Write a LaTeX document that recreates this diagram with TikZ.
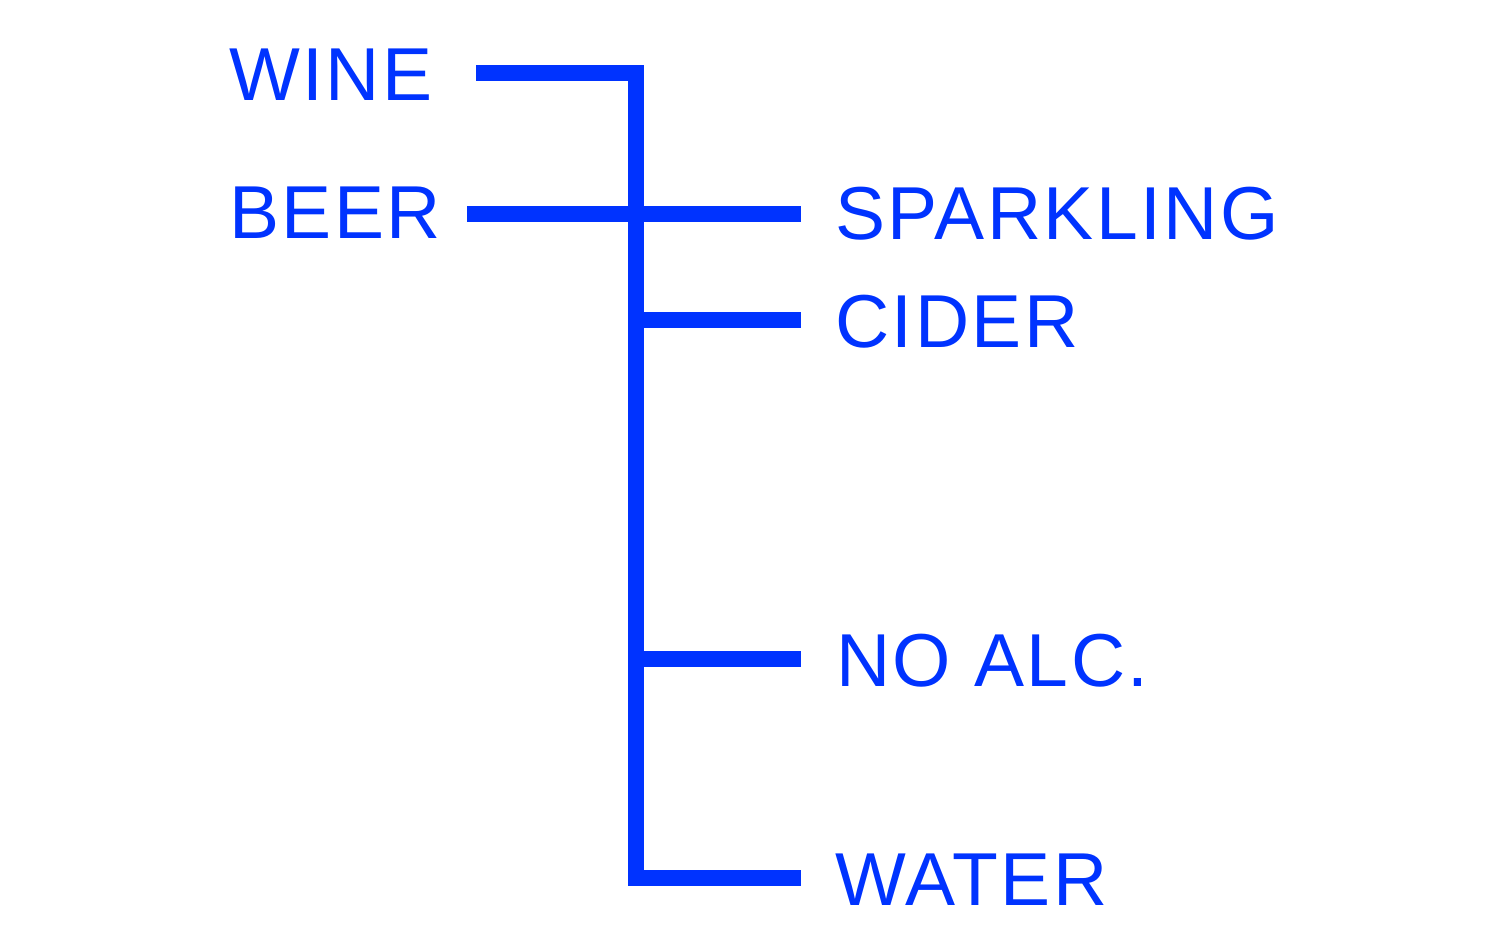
\documentclass[tikz,border=0pt]{standalone}
\usepackage{fontspec}
\setmainfont{Liberation Sans}[LetterSpace=3.2]
\definecolor{drinkblue}{RGB}{0,51,255}
\tikzset{
	branch/.style={draw=drinkblue, line width=0.32cm, line join=miter},
	drink/.style={anchor=base west, inner sep=0pt, text=drinkblue, font=\fontsize{42.7pt}{48pt}\selectfont}
}
\begin{document}
\begin{tikzpicture}[x=0.02cm, y=-0.02cm]
	\useasboundingbox (0,0) rectangle (1500,942);
	% left side
	\node[drink] (wine) at (229,101) {WINE};
	\node[drink] (beer) at (229,239) {BEER};
	\coordinate (wineend) at (476,73);
	\coordinate (beerend) at (467,214);
	% trunk
	\coordinate (top) at (636,73);
	\coordinate (bottom) at (636,878);
	\coordinate (waterend) at (801,878);
	\coordinate (sparklingend) at (801,214);
	\draw[branch] (wineend) -- (top) -- (bottom) -- (waterend);
	\draw[branch] (beerend) -- (sparklingend);
	\foreach \y/\n in {320/cider, 659/noalc} {
		\coordinate (\n end) at (801,\y);
		\draw[branch] (top |- \n end) -- (\n end);
	}
	% right side
	\node[drink] (sparkling) at (835,240) {SPARKLING};
	\node[drink] (cider) at (835,347) {CIDER};
	\node[drink] (noalc) at (836,686) {NO ALC.};
	\node[drink] (water) at (835,905) {WATER};
\end{tikzpicture}
\end{document}
